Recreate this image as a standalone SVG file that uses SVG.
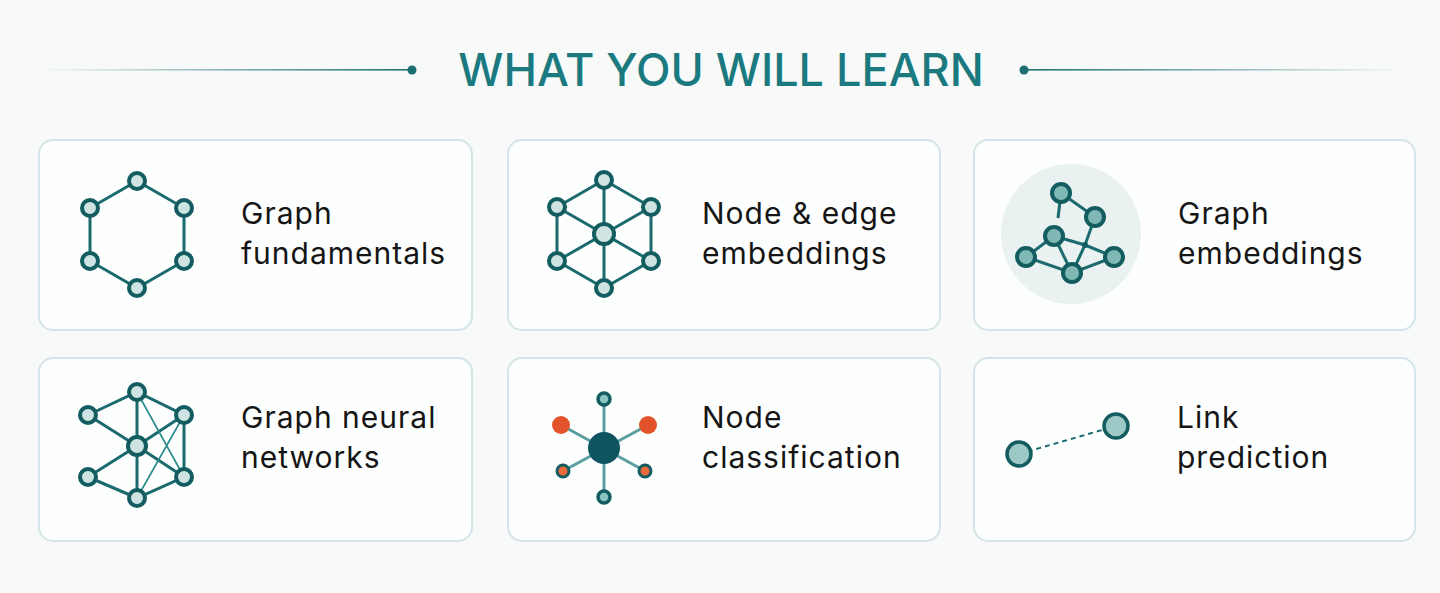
<svg xmlns="http://www.w3.org/2000/svg" width="1440" height="593" viewBox="0 0 1440 593">
<style>
.card{fill:#fdfefe;stroke:#d3e5e8;stroke-width:2}
.lbl{font-family:Inter,"Noto Sans",sans-serif;font-size:30px;letter-spacing:1px;fill:#151515}
.e{stroke:#1b6a6d;stroke-width:3;fill:none}
.t{stroke:#2a8a8a;stroke-width:1.6;fill:none}
.n{fill:#cfe4e2;stroke:#135c60;stroke-width:4}
.g{fill:#7fb8b4;stroke:#135c60;stroke-width:4}
</style>
<defs>
<linearGradient id="lg" x1="0" x2="1"><stop offset="0" stop-color="#1b6f73" stop-opacity="0"/><stop offset="1" stop-color="#1b6f73"/></linearGradient>
<linearGradient id="rg" x1="0" x2="1"><stop offset="0" stop-color="#1b6f73"/><stop offset="1" stop-color="#1b6f73" stop-opacity="0"/></linearGradient>
</defs>
<rect width="1440" height="593" fill="#f8f9f9"/>
<g id="title">
<rect x="40" y="69" width="372" height="1.6" fill="url(#lg)"/>
<circle cx="412" cy="70" r="4.5" fill="#1b6f73"/>
<rect x="1024" y="69" width="380" height="1.6" fill="url(#rg)"/>
<circle cx="1024" cy="70" r="4.5" fill="#1b6f73"/>
<text x="721" y="86" text-anchor="middle" font-family="Inter,'Noto Sans',sans-serif" font-size="45" font-weight="500" fill="#1a7a80">WHAT YOU WILL LEARN</text>
</g>
<g id="cards">
<rect class="card" x="39" y="140" width="433" height="190" rx="14"/>
<rect class="card" x="508" y="140" width="432" height="190" rx="14"/>
<rect class="card" x="974" y="140" width="441" height="190" rx="14"/>
<circle cx="1071" cy="234" r="70" fill="#eaf1f1"/>
<rect class="card" x="39" y="358" width="433" height="183" rx="14"/>
<rect class="card" x="508" y="358" width="432" height="183" rx="14"/>
<rect class="card" x="974" y="358" width="441" height="183" rx="14"/>
</g>
<g id="connectors">
<path class="e" d="M137,181 L184,208 L184,261 L137,288 L90,261 L90,208 Z"/>
<path class="e" d="M604,180 L651,207 L651,261 L604,288 L557,261 L557,207 Z M604,180 L604,288 M557,207 L651,261 M651,207 L557,261"/>
<path class="e" d="M1061,193 L1095,217 L1085,245 L1072,273 M1061,193 L1058,218 M1054,236 L1085,245 L1114,257 M1054,236 L1026,257 L1072,273 L1114,257 M1054,236 L1072,273" stroke-width="2.5"/>
<path class="e" d="M88,415 L137,392 L184,415 L184,477 L137,498 L88,477 M137,446 L88,415 M137,446 L184,415 M137,446 L88,477 M137,446 L184,477 M137,392 L137,498"/>
<path class="t" d="M137,392 L184,477 M184,415 L137,498"/>
<path d="M604,399 L604,497 M561,425 L645,471 M648,425 L563,471" stroke="#5a9ea0" stroke-width="3"/>
<line x1="1019" y1="454" x2="1116" y2="426" stroke="#1b6a6d" stroke-width="2" stroke-dasharray="5 4"/>
</g>
<g id="n1">
<circle class="n" cx="137" cy="181" r="8"/><circle class="n" cx="184" cy="208" r="8"/><circle class="n" cx="184" cy="261" r="8"/><circle class="n" cx="137" cy="288" r="8"/><circle class="n" cx="90" cy="261" r="8"/><circle class="n" cx="90" cy="208" r="8"/>
<text class="lbl" x="241" y="224">Graph</text><text class="lbl" x="241" y="264">fundamentals</text></g>
<g id="n2">
<circle class="n" cx="604" cy="180" r="8"/><circle class="n" cx="651" cy="207" r="8"/><circle class="n" cx="651" cy="261" r="8"/><circle class="n" cx="604" cy="288" r="8"/><circle class="n" cx="557" cy="261" r="8"/><circle class="n" cx="557" cy="207" r="8"/><circle class="n" cx="604" cy="234" r="10" fill="#f4f9f9"/>
<text class="lbl" x="702" y="224">Node &amp; edge</text><text class="lbl" x="702" y="264">embeddings</text></g>
<g id="n3">
<circle class="g" cx="1061" cy="193" r="9"/><circle class="g" cx="1095" cy="217" r="9"/><circle class="g" cx="1054" cy="236" r="9"/><circle class="g" cx="1026" cy="257" r="9"/><circle class="g" cx="1072" cy="273" r="9"/><circle class="g" cx="1114" cy="257" r="9"/><circle cx="1085" cy="245" r="3" fill="#135c60"/>
<text class="lbl" x="1178" y="224">Graph</text><text class="lbl" x="1178" y="264">embeddings</text></g>
<g id="n4">
<circle class="n" cx="137" cy="392" r="8"/><circle class="n" cx="184" cy="415" r="8"/><circle class="n" cx="184" cy="477" r="8"/><circle class="n" cx="137" cy="498" r="8"/><circle class="n" cx="88" cy="477" r="8"/><circle class="n" cx="88" cy="415" r="8"/><circle class="n" cx="137" cy="446" r="9" fill="#f4f9f9"/>
<text class="lbl" x="241" y="428">Graph neural</text><text class="lbl" x="241" y="468">networks</text></g>
<g id="n5">
<circle cx="604" cy="448" r="16" fill="#0d5560"/>
<circle cx="604" cy="399" r="6" fill="#8cc4c4" stroke="#135c60" stroke-width="3.5"/><circle cx="604" cy="497" r="6" fill="#8cc4c4" stroke="#135c60" stroke-width="3.5"/>
<circle cx="561" cy="425" r="9" fill="#e2532b"/><circle cx="648" cy="425" r="9" fill="#e2532b"/>
<circle cx="563" cy="471" r="6" fill="#ea6a3a" stroke="#135c60" stroke-width="3"/><circle cx="645" cy="471" r="6" fill="#ea6a3a" stroke="#135c60" stroke-width="3"/>
<text class="lbl" x="702" y="428">Node</text><text class="lbl" x="702" y="468">classification</text></g>
<g id="n6">
<circle cx="1019" cy="454" r="12" fill="#9cc9c6" stroke="#135c60" stroke-width="3.5"/><circle cx="1116" cy="426" r="12" fill="#9cc9c6" stroke="#135c60" stroke-width="3.5"/>
<text class="lbl" x="1177" y="428">Link</text><text class="lbl" x="1177" y="468">prediction</text></g>
</svg>
